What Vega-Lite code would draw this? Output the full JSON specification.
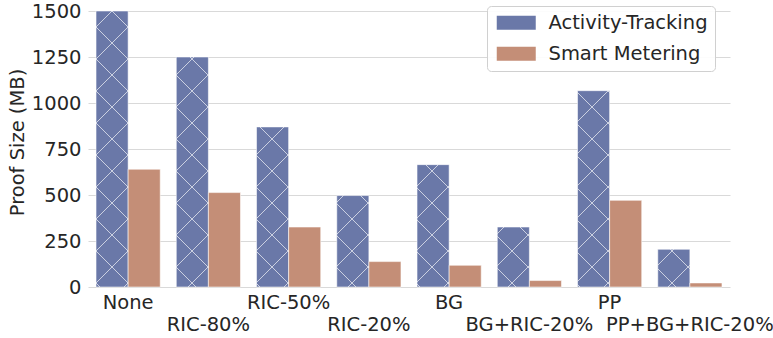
{
  "$schema": "https://vega.github.io/schema/vega-lite/v6.json",
  "width": 642,
  "height": 276,
  "autosize": {"type": "none"},
  "padding": {"left": 88, "top": 11, "right": 43, "bottom": 51},
  "background": "white",
  "config": {
    "view": {"stroke": null},
    "font": "DejaVu Sans",
    "axis": {"labelFont": "DejaVu Sans", "titleFont": "DejaVu Sans", "labelColor": "#262626", "titleColor": "#262626"},
    "legend": {"labelFont": "DejaVu Sans"}
  },
  "params": [
    {"name": "hatchStops", "value": [
      {"offset": 0, "color": "rgba(255,255,255,0.65)"}, {"offset": 0.00284, "color": "rgba(255,255,255,0.65)"}, {"offset": 0.00284, "color": "rgba(255,255,255,0)"},
      {"offset": 0.088069, "color": "rgba(255,255,255,0)"}, {"offset": 0.088069, "color": "rgba(255,255,255,0.65)"}, {"offset": 0.093749, "color": "rgba(255,255,255,0.65)"}, {"offset": 0.093749, "color": "rgba(255,255,255,0)"},
      {"offset": 0.178978, "color": "rgba(255,255,255,0)"}, {"offset": 0.178978, "color": "rgba(255,255,255,0.65)"}, {"offset": 0.184658, "color": "rgba(255,255,255,0.65)"}, {"offset": 0.184658, "color": "rgba(255,255,255,0)"},
      {"offset": 0.269887, "color": "rgba(255,255,255,0)"}, {"offset": 0.269887, "color": "rgba(255,255,255,0.65)"}, {"offset": 0.275567, "color": "rgba(255,255,255,0.65)"}, {"offset": 0.275567, "color": "rgba(255,255,255,0)"},
      {"offset": 0.360796, "color": "rgba(255,255,255,0)"}, {"offset": 0.360796, "color": "rgba(255,255,255,0.65)"}, {"offset": 0.366476, "color": "rgba(255,255,255,0.65)"}, {"offset": 0.366476, "color": "rgba(255,255,255,0)"},
      {"offset": 0.451705, "color": "rgba(255,255,255,0)"}, {"offset": 0.451705, "color": "rgba(255,255,255,0.65)"}, {"offset": 0.457385, "color": "rgba(255,255,255,0.65)"}, {"offset": 0.457385, "color": "rgba(255,255,255,0)"},
      {"offset": 0.542615, "color": "rgba(255,255,255,0)"}, {"offset": 0.542615, "color": "rgba(255,255,255,0.65)"}, {"offset": 0.548295, "color": "rgba(255,255,255,0.65)"}, {"offset": 0.548295, "color": "rgba(255,255,255,0)"},
      {"offset": 0.633524, "color": "rgba(255,255,255,0)"}, {"offset": 0.633524, "color": "rgba(255,255,255,0.65)"}, {"offset": 0.639204, "color": "rgba(255,255,255,0.65)"}, {"offset": 0.639204, "color": "rgba(255,255,255,0)"},
      {"offset": 0.724433, "color": "rgba(255,255,255,0)"}, {"offset": 0.724433, "color": "rgba(255,255,255,0.65)"}, {"offset": 0.730113, "color": "rgba(255,255,255,0.65)"}, {"offset": 0.730113, "color": "rgba(255,255,255,0)"},
      {"offset": 0.815342, "color": "rgba(255,255,255,0)"}, {"offset": 0.815342, "color": "rgba(255,255,255,0.65)"}, {"offset": 0.821022, "color": "rgba(255,255,255,0.65)"}, {"offset": 0.821022, "color": "rgba(255,255,255,0)"},
      {"offset": 0.906251, "color": "rgba(255,255,255,0)"}, {"offset": 0.906251, "color": "rgba(255,255,255,0.65)"}, {"offset": 0.911931, "color": "rgba(255,255,255,0.65)"}, {"offset": 0.911931, "color": "rgba(255,255,255,0)"}
    ]}
  ],
  "data": {"values": [
    {"Config": "None", "Dataset": "Activity-Tracking", "Value": 1500},
    {"Config": "None", "Dataset": "Smart Metering", "Value": 640},
    {"Config": "RIC-80%", "Dataset": "Activity-Tracking", "Value": 1250},
    {"Config": "RIC-80%", "Dataset": "Smart Metering", "Value": 513},
    {"Config": "RIC-50%", "Dataset": "Activity-Tracking", "Value": 870},
    {"Config": "RIC-50%", "Dataset": "Smart Metering", "Value": 326},
    {"Config": "RIC-20%", "Dataset": "Activity-Tracking", "Value": 497},
    {"Config": "RIC-20%", "Dataset": "Smart Metering", "Value": 138},
    {"Config": "BG", "Dataset": "Activity-Tracking", "Value": 665},
    {"Config": "BG", "Dataset": "Smart Metering", "Value": 118},
    {"Config": "BG+RIC-20%", "Dataset": "Activity-Tracking", "Value": 326},
    {"Config": "BG+RIC-20%", "Dataset": "Smart Metering", "Value": 35},
    {"Config": "PP", "Dataset": "Activity-Tracking", "Value": 1067},
    {"Config": "PP", "Dataset": "Smart Metering", "Value": 471},
    {"Config": "PP+BG+RIC-20%", "Dataset": "Activity-Tracking", "Value": 205},
    {"Config": "PP+BG+RIC-20%", "Dataset": "Smart Metering", "Value": 22}
  ]},
  "encoding": {
    "x": {
      "field": "Config", "type": "nominal",
      "sort": ["None", "RIC-80%", "RIC-50%", "RIC-20%", "BG", "BG+RIC-20%", "PP", "PP+BG+RIC-20%"],
      "scale": {"paddingInner": 0.2, "paddingOuter": 0.1},
      "axis": {
        "title": null, "domain": false, "ticks": false, "grid": false,
        "labelAngle": 0, "labelFontSize": 19.5, "labelPadding": 6, "labelOverlap": false,
        "labelBound": false, "labelFlush": false, "labelBaseline": "top", "labelLineHeight": 22,
        "labelExpr": "indexof(['RIC-80%','RIC-20%','BG+RIC-20%','PP+BG+RIC-20%'], datum.value) >= 0 ? ['', datum.label] : datum.label"
      }
    },
    "xOffset": {"field": "Dataset", "type": "nominal", "scale": {"domain": ["Activity-Tracking", "Smart Metering"], "paddingInner": 0, "paddingOuter": 0}},
    "y": {
      "field": "Value", "type": "quantitative",
      "scale": {"domain": [0, 1500], "nice": false},
      "axis": {
        "title": "Proof Size (MB)", "titleFontSize": 19.5, "titleFontWeight": "normal", "titlePadding": 4, "titleY": 131,
        "values": [0, 250, 500, 750, 1000, 1250, 1500], "format": "d",
        "labelFontSize": 19.5, "labelPadding": 7, "labelFlush": false,
        "domain": false, "ticks": false, "grid": true, "gridColor": "#d9d9d9", "gridWidth": 1.1
      }
    }
  },
  "layer": [
    {
      "mark": {"type": "bar", "stroke": "white", "strokeWidth": 0.8, "strokeOpacity": 0.7},
      "encoding": {
        "color": {
          "field": "Dataset", "type": "nominal",
          "scale": {"domain": ["Activity-Tracking", "Smart Metering"], "range": ["#6a78a8", "#c48e77"]},
          "legend": {
            "title": null, "orient": "none", "legendX": 399, "legendY": -5,
            "symbolType": "M-1,-1H4.571V1H-1Z", "symbolSize": 196, "symbolStrokeWidth": 0, "symbolOpacity": 1,
            "labelFontSize": 19.5, "labelColor": "#262626", "labelOffset": 35, "labelLimit": 300,
            "padding": 7, "rowPadding": 10,
            "strokeColor": "#d0d0d0", "fillColor": "rgba(255,255,255,0.9)", "cornerRadius": 4
          }
        }
      }
    },
    {
      "transform": [{"filter": "datum.Dataset === 'Activity-Tracking'"}],
      "mark": {"type": "bar"},
      "encoding": {
        "fill": {"value": {"expr": "{gradient: 'linear', x1: -((((scale('x',datum.Config)+scale('xOffset',datum.Dataset)+scale('y',datum.Value)-24)%32)+32)%32)/bandwidth('xOffset'), y1: 0, x2: -((((scale('x',datum.Config)+scale('xOffset',datum.Dataset)+scale('y',datum.Value)-24)%32)+32)%32)/bandwidth('xOffset') + 352*bandwidth('xOffset')/(pow(bandwidth('xOffset'),2)+pow(scale('y',0)-scale('y',datum.Value),2)), y2: 352*(scale('y',0)-scale('y',datum.Value))/(pow(bandwidth('xOffset'),2)+pow(scale('y',0)-scale('y',datum.Value),2)), stops: hatchStops}"}}
      }
    },
    {
      "transform": [{"filter": "datum.Dataset === 'Activity-Tracking'"}],
      "mark": {"type": "bar"},
      "encoding": {
        "fill": {"value": {"expr": "{gradient: 'linear', x1: 1 + ((((24-scale('x',datum.Config)-scale('xOffset',datum.Dataset)+scale('y',datum.Value)-bandwidth('xOffset'))%32)+32)%32)/bandwidth('xOffset'), y1: 0, x2: 1 + ((((24-scale('x',datum.Config)-scale('xOffset',datum.Dataset)+scale('y',datum.Value)-bandwidth('xOffset'))%32)+32)%32)/bandwidth('xOffset') - 352*bandwidth('xOffset')/(pow(bandwidth('xOffset'),2)+pow(scale('y',0)-scale('y',datum.Value),2)), y2: 352*(scale('y',0)-scale('y',datum.Value))/(pow(bandwidth('xOffset'),2)+pow(scale('y',0)-scale('y',datum.Value),2)), stops: hatchStops}"}}
      }
    }
  ]
}
